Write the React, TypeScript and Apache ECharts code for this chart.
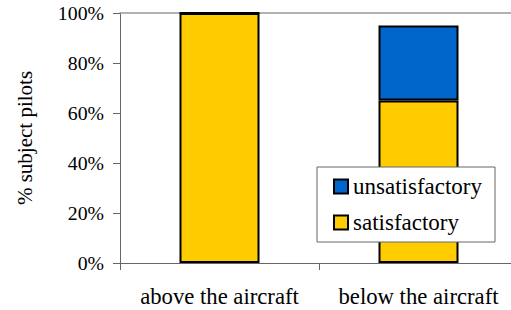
import React, { useEffect, useRef } from "react";
import * as echarts from "echarts";

const categories = ["above the aircraft", "below the aircraft"];
const satisfactory = [100, 65];
const unsatisfactory = [0, 30];
const yTicks = [0, 20, 40, 60, 80, 100];

const FONT = "Liberation Serif";

export default function App() {
  const ref = useRef<HTMLDivElement>(null);
  useEffect(() => {
    document.body.style.margin = "0";
    document.body.style.overflow = "hidden";
    if (!ref.current) return;
    const chart = echarts.init(ref.current, undefined, { renderer: "svg" });
    chart.setOption({
      animation: false,
      backgroundColor: "#ffffff",
      grid: { left: 120, right: 0, top: 13, bottom: 47 },
      legend: {
        orient: "vertical",
        left: 317,
        top: 167,
        data: ["unsatisfactory", "satisfactory"],
        icon: "rect",
        itemWidth: 14,
        itemHeight: 14,
        itemGap: 13,
        padding: [8, 13, 8, 16],
        backgroundColor: "#ffffff",
        borderColor: "#666666",
        borderWidth: 1,
        textStyle: { fontFamily: FONT, fontSize: 23, color: "#000" },
      },
      xAxis: [
        {
          type: "category",
          data: categories,
          axisLine: { lineStyle: { color: "#666666", width: 1 } },
          axisTick: { show: true, length: 7, lineStyle: { color: "#666666" } },
          axisLabel: { fontFamily: FONT, fontSize: 22.7, color: "#000", margin: 22, interval: 0 },
        },
        {
          type: "category",
          position: "top",
          data: categories,
          axisLine: { show: true, lineStyle: { color: "#999999", width: 1.5 } },
          axisTick: { show: false },
          axisLabel: { show: false },
        },
      ],
      yAxis: {
        type: "value",
        min: yTicks[0],
        max: yTicks[yTicks.length - 1],
        interval: 20,
        name: "% subject pilots",
        nameLocation: "middle",
        nameGap: 85,
        nameTextStyle: { fontFamily: FONT, fontSize: 21, color: "#000" },
        axisLine: { show: true, lineStyle: { color: "#666666", width: 1 } },
        axisTick: { show: true, length: 7, lineStyle: { color: "#666666" } },
        splitLine: { show: false },
        axisLabel: {
          fontFamily: FONT,
          fontSize: 19.8,
          color: "#000",
          margin: 16,
          formatter: (v: number) => v + "%",
        },
      },
      series: [
        {
          name: "satisfactory",
          type: "bar",
          stack: "total",
          barWidth: 80,
          data: satisfactory,
          itemStyle: { color: "#FFCC00", borderColor: "#000", borderWidth: 2 },
        },
        {
          name: "unsatisfactory",
          type: "bar",
          stack: "total",
          barWidth: 80,
          data: unsatisfactory,
          itemStyle: { color: "#0066CC", borderColor: "#000", borderWidth: 2 },
        },
      ],
    });
    return () => chart.dispose();
  }, []);
  return <div ref={ref} style={{ width: 518, height: 310 }} />;
}
